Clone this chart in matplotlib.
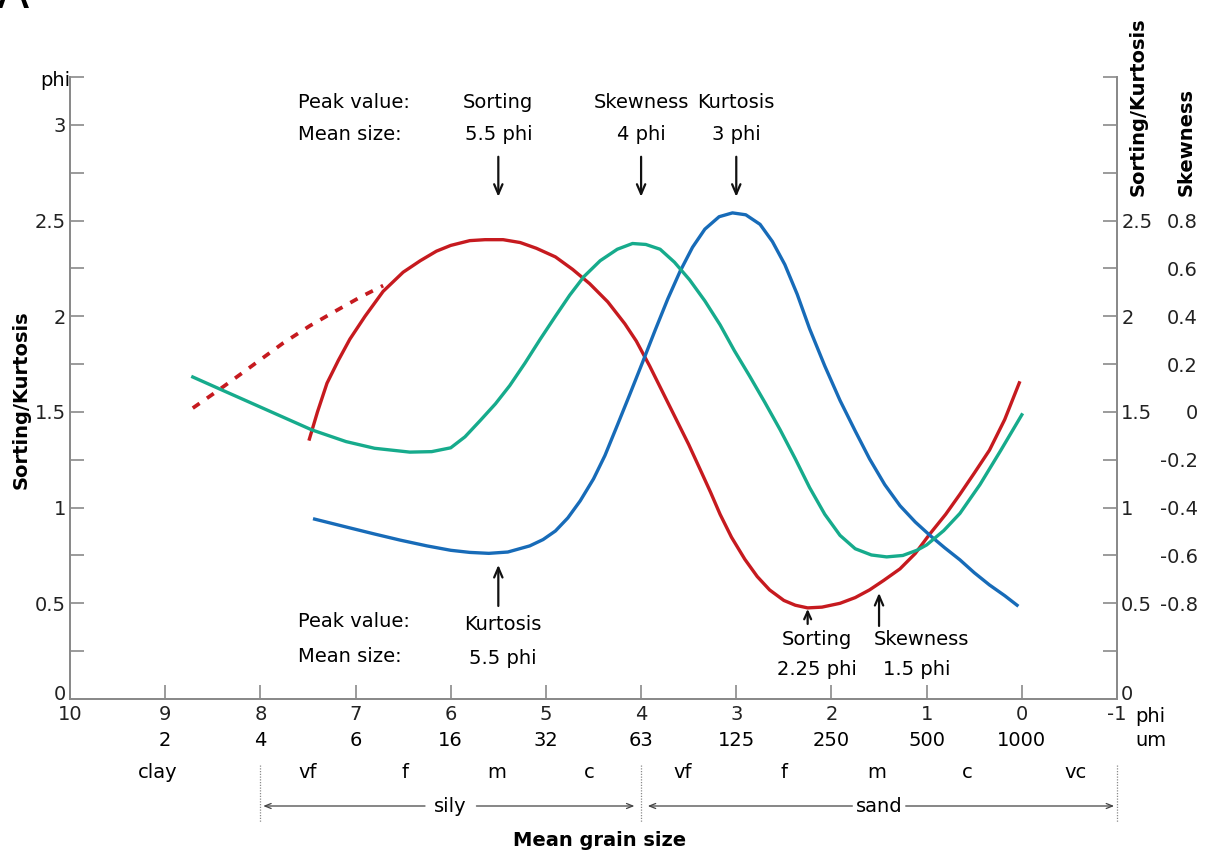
import matplotlib.pyplot as plt
import matplotlib.transforms as mtransforms

# --- sorting (phi), solid part and dotted extrapolation ---
sort_phi = [7.49, 7.40, 7.30, 7.18, 7.06, 6.90, 6.71, 6.50, 6.32, 6.15, 6.00, 5.80, 5.64,
            5.45, 5.27, 5.10, 4.90, 4.72, 4.54, 4.35, 4.17, 4.05, 3.91, 3.78, 3.64, 3.50,
            3.38, 3.27, 3.17, 3.05, 2.91, 2.78, 2.65, 2.50, 2.38, 2.25, 2.10, 1.91, 1.75,
            1.60, 1.45, 1.28, 1.12, 0.97, 0.80, 0.65, 0.50, 0.34, 0.18, 0.02]
sort_val = [1.35, 1.50, 1.65, 1.77, 1.88, 2.00, 2.13, 2.23, 2.29, 2.34, 2.37, 2.395, 2.40,
            2.40, 2.385, 2.355, 2.31, 2.245, 2.17, 2.075, 1.96, 1.87, 1.74, 1.61, 1.47, 1.33,
            1.20, 1.08, 0.965, 0.845, 0.73, 0.64, 0.57, 0.515, 0.49, 0.476, 0.48, 0.50, 0.53,
            0.57, 0.62, 0.68, 0.76, 0.86, 0.965, 1.07, 1.18, 1.30, 1.46, 1.66]
sort_ext_phi = [8.71, 8.45, 8.20, 7.98, 7.76, 7.48, 7.20, 6.95, 6.71]
sort_ext_val = [1.52, 1.61, 1.70, 1.78, 1.86, 1.95, 2.03, 2.10, 2.16]

# --- skewness (right scale) ---
skew_phi = [8.71, 8.40, 8.10, 7.80, 7.46, 7.10, 6.80, 6.43, 6.20, 6.00, 5.85, 5.69, 5.53,
            5.38, 5.22, 5.06, 4.90, 4.75, 4.60, 4.43, 4.25, 4.09, 3.95, 3.80, 3.65, 3.49,
            3.33, 3.17, 3.02, 2.86, 2.70, 2.54, 2.38, 2.23, 2.07, 1.91, 1.75, 1.58, 1.42,
            1.25, 1.10, 1.00, 0.82, 0.65, 0.44, 0.22, 0.00]
skew_val = [0.146, 0.091, 0.038, -0.015, -0.075, -0.124, -0.152, -0.168, -0.166, -0.150,
            -0.104, -0.036, 0.034, 0.110, 0.204, 0.304, 0.400, 0.488, 0.566, 0.632, 0.680,
            0.704, 0.700, 0.680, 0.626, 0.552, 0.464, 0.364, 0.256, 0.150, 0.040, -0.074,
            -0.196, -0.316, -0.428, -0.516, -0.572, -0.598, -0.606, -0.600, -0.578, -0.556,
            -0.496, -0.424, -0.304, -0.160, -0.012]

# --- kurtosis ---
kurt_phi = [7.43, 7.06, 6.80, 6.53, 6.25, 6.00, 5.80, 5.60, 5.40, 5.17, 5.03, 4.90, 4.77,
            4.64, 4.50, 4.38, 4.25, 4.12, 3.98, 3.85, 3.72, 3.59, 3.46, 3.33, 3.18, 3.04,
            2.90, 2.75, 2.62, 2.49, 2.36, 2.23, 2.07, 1.91, 1.75, 1.60, 1.44, 1.28, 1.12,
            0.97, 0.81, 0.65, 0.50, 0.34, 0.18, 0.05]
kurt_val = [0.94, 0.894, 0.862, 0.83, 0.80, 0.777, 0.766, 0.761, 0.768, 0.80, 0.833, 0.878,
            0.946, 1.035, 1.15, 1.272, 1.43, 1.59, 1.765, 1.93, 2.09, 2.235, 2.36, 2.455, 2.52,
            2.54, 2.53, 2.48, 2.39, 2.27, 2.115, 1.935, 1.74, 1.56, 1.40, 1.255, 1.12, 1.01,
            0.925, 0.857, 0.79, 0.727, 0.66, 0.596, 0.54, 0.49]

phi_ticks = [10, 9, 8, 7, 6, 5, 4, 3, 2, 1, 0, -1]
um_phi = [9, 8, 7, 6, 5, 4, 3, 2, 1, 0]
um_labels = ['2', '4', '6', '16', '32', '63', '125', '250', '500', '1000']
class_pos = [9.08, 7.5, 6.48, 5.52, 4.54, 3.56, 2.5, 1.52, 0.57, -0.56]
class_labels = ['clay', 'vf', 'f', 'm', 'c', 'vf', 'f', 'm', 'c', 'vc']
class_bounds = [8, 4, -1]

sk_ticks = [0, 0.5, 1, 1.5, 2, 2.5]
skew_ticks = [-0.8, -0.6, -0.4, -0.2, 0, 0.2, 0.4, 0.6, 0.8]

RED = '#c61a1f'
GREEN = '#16ab8c'
BLUE = '#176bb8'
GREY = '#8a8a8a'
W, H = 1213, 855

plt.rcParams['font.family'] = 'DejaVu Sans'
fig = plt.figure(figsize=(W / 100, H / 100), dpi=100)
ax = fig.add_axes([70 / W, 1 - 699 / H, (1117 - 70) / W, (699 - 77) / H])
ax.set_xlim(10, -1)
ax.set_ylim(0, 3.25)

# skewness sits on its own scale: 0 -> 1.5, 0.2 per 0.25
ax_sk = ax.twinx()
ax_sk.set_ylim((0 - 1.5) / 1.25, (3.25 - 1.5) / 1.25)
ax_r = ax.twinx()
ax_r.set_ylim(0, 3.25)

lw = 2.4
ax.plot(sort_ext_phi, sort_ext_val, color=RED, lw=lw + 0.3, ls=(0, (2.2, 2.4)))
ax.plot(sort_phi, sort_val, color=RED, lw=lw, solid_capstyle='butt')
ax_sk.plot(skew_phi, skew_val, color=GREEN, lw=lw)
ax.plot(kurt_phi, kurt_val, color=BLUE, lw=lw)

for a in (ax, ax_sk, ax_r):
    a.spines['top'].set_visible(False)
    for s in a.spines.values():
        s.set_color(GREY)
        s.set_linewidth(1.2)

ax.set_xticks(phi_ticks)
ax.set_xticklabels([str(v) for v in phi_ticks])
ax.set_yticks([0, 0.5, 1, 1.5, 2, 2.5, 3])
ax.set_yticklabels(['0', '0.5', '1', '1.5', '2', '2.5', '3'])
ax.set_yticks([0.25 * i for i in range(14)], minor=True)
ax.tick_params(axis='both', which='both', direction='in', color=GREY, width=1.2,
               labelsize=14, colors='#222222')
ax.tick_params(axis='both', which='major', length=10, pad=3)
ax.tick_params(axis='y', which='minor', length=10)
ax.tick_params(axis='x', pad=4)

ax_r.set_yticks(sk_ticks)
ax_r.set_yticklabels(['0', '0.5', '1', '1.5', '2', '2.5'])
ax_r.set_yticks([0.25 * i for i in range(14)], minor=True)
ax_r.tick_params(axis='y', which='both', direction='in', length=10, color=GREY,
                 width=1.2, labelsize=14, labelcolor='#222222', pad=3)

ax_sk.set_yticks(skew_ticks)
ax_sk.set_yticklabels(['%g' % v for v in skew_ticks])
ax_sk.tick_params(axis='y', length=0, labelsize=14, labelcolor='#222222', pad=81 * 0.72)
for t in ax_sk.get_yticklabels():
    t.set_horizontalalignment('right')

# the two corner zeros sit a little above the x axis
lift = mtransforms.ScaledTranslation(0, 5 / 72, fig.dpi_scale_trans)
for t in (ax.get_yticklabels()[0], ax_r.get_yticklabels()[0]):
    t.set_transform(t.get_transform() + lift)

# axis titles
fig.text(21 / W, 1 - 400 / H, 'Sorting/Kurtosis', rotation=90, ha='center', va='center',
         fontsize=14, fontweight='bold')
fig.text(1138 / W, 1 - 196 / H, 'Sorting/Kurtosis', rotation=90, ha='center', va='bottom',
         fontsize=14, fontweight='bold')
fig.text(1186 / W, 1 - 196 / H, 'Skewness', rotation=90, ha='center', va='bottom',
         fontsize=14, fontweight='bold')
fig.text(55 / W, 1 - 80 / H, 'phi', ha='center', va='center', fontsize=14)
fig.text(-3 / W, 1 - 8 / H, 'A', ha='left', va='baseline', fontsize=34)

# grain-size rows under the axis
bt = mtransforms.blended_transform_factory(ax.transData, fig.transFigure)
for p, lab in zip(um_phi, um_labels):
    ax.text(p, 1 - 740 / H, lab, transform=bt, ha='center', va='center', fontsize=14)
fig.text(1135 / W, 1 - 716 / H, 'phi', ha='left', va='center', fontsize=14)
fig.text(1135 / W, 1 - 740 / H, 'um', ha='left', va='center', fontsize=14)
for p, lab in zip(class_pos, class_labels):
    ax.text(p, 1 - 772 / H, lab, transform=bt, ha='center', va='center', fontsize=14)
for p in class_bounds:
    ax.plot([p, p], [1 - 765 / H, 1 - 822 / H], transform=bt, color=GREY, lw=0.9,
            ls=(0, (1, 1.2)), clip_on=False)

arr = dict(arrowstyle='->,head_length=0.45,head_width=0.18', color='#444444', lw=0.9,
           shrinkA=0, shrinkB=0)
y_cls = 1 - 806 / H
ax.text(6.0, y_cls, 'sily', transform=bt, ha='center', va='center', fontsize=14)
ax.annotate('', xy=(7.97, y_cls), xytext=(6.27, y_cls), xycoords=bt, textcoords=bt,
            arrowprops=arr, annotation_clip=False)
ax.annotate('', xy=(4.07, y_cls), xytext=(5.73, y_cls), xycoords=bt, textcoords=bt,
            arrowprops=arr, annotation_clip=False)
ax.text(1.5, y_cls, 'sand', transform=bt, ha='center', va='center', fontsize=14)
ax.annotate('', xy=(3.93, y_cls), xytext=(1.78, y_cls), xycoords=bt, textcoords=bt,
            arrowprops=arr, annotation_clip=False)
ax.annotate('', xy=(-0.97, y_cls), xytext=(1.22, y_cls), xycoords=bt, textcoords=bt,
            arrowprops=arr, annotation_clip=False)
fig.text(600 / W, 1 - 840 / H, 'Mean grain size', ha='center', va='center', fontsize=14,
         fontweight='bold')


# peak annotations, vertical positions given in pixel rows
def to_y(py):
    return (699 - py) / 191.3


karr = dict(arrowstyle='->,head_length=0.7,head_width=0.3', color='#111111', lw=1.6,
            shrinkA=0, shrinkB=0)
fs = 14
ax.text(7.6, to_y(103), 'Peak value:', ha='left', va='center', fontsize=fs)
ax.text(7.6, to_y(135), 'Mean size:', ha='left', va='center', fontsize=fs)
for p, name, lab in [(5.5, 'Sorting', '5.5 phi'), (4.0, 'Skewness', '4 phi'),
                     (3.0, 'Kurtosis', '3 phi')]:
    ax.text(p, to_y(103), name, ha='center', va='center', fontsize=fs)
    ax.text(p, to_y(135), lab, ha='center', va='center', fontsize=fs)
    ax.annotate('', xy=(p, to_y(197)), xytext=(p, to_y(157)), arrowprops=karr)

ax.text(7.6, to_y(622), 'Peak value:', ha='left', va='center', fontsize=fs)
ax.text(7.6, to_y(657), 'Mean size:', ha='left', va='center', fontsize=fs)
ax.text(5.45, to_y(625), 'Kurtosis', ha='center', va='center', fontsize=fs)
ax.text(5.45, to_y(659), '5.5 phi', ha='center', va='center', fontsize=fs)
ax.annotate('', xy=(5.5, to_y(565)), xytext=(5.5, to_y(606)), arrowprops=karr)

ax.text(2.15, to_y(640), 'Sorting', ha='center', va='center', fontsize=fs)
ax.text(2.15, to_y(670), '2.25 phi', ha='center', va='center', fontsize=fs)
ax.annotate('', xy=(2.25, to_y(609)), xytext=(2.25, to_y(624)),
            arrowprops=dict(karr, arrowstyle='->,head_length=0.55,head_width=0.25'))
ax.text(1.05, to_y(640), 'Skewness', ha='center', va='center', fontsize=fs)
ax.text(1.1, to_y(670), '1.5 phi', ha='center', va='center', fontsize=fs)
ax.annotate('', xy=(1.5, to_y(593)), xytext=(1.5, to_y(626)), arrowprops=karr)

fig.savefig('out.png', dpi=100)
